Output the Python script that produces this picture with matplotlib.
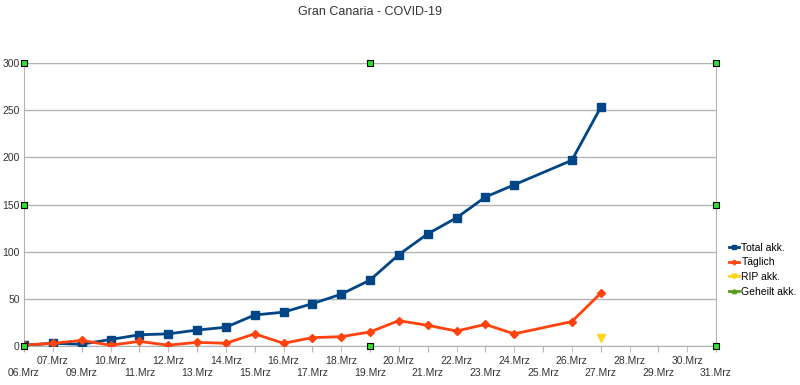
import numpy as np
import matplotlib
matplotlib.use("Agg")
import matplotlib.pyplot as plt

plt.rcParams['font.family'] = ['Liberation Sans', 'DejaVu Sans']

# Kategorien (08.Mrz fehlt in der Tabelle)
days = ["06.Mrz", "07.Mrz"] + ["%02d.Mrz" % d for d in range(9, 32)]

# Werte pro Tag, None = kein Eintrag
total = [1, 3, 2, 7, 12, 13, 17, 20, 33, 36, 45, 55, 70, 97, 119, 136, 158, 171,
         None, 197, 253, None, None, None, None]
taeglich = [1, 3, 6, 1, 5, 1, 4, 3, 13, 3, 9, 10, 15, 27, 22, 16, 23, 13,
            None, 26, 56, None, None, None, None]
rip = [None] * 20 + [9, None, None, None, None]
geheilt = [None] * 25

# Markierungs-Griffe (gruene Quadrate) aus dem Screenshot
handle_x = [0, 0, 0, 12, 12, 24, 24, 24]
handle_y = [300, 150, 0, 300, 0, 300, 150, 0]


def pts(vals):
    xs = [i for i, v in enumerate(vals) if v is not None]
    ys = [v for v in vals if v is not None]
    return xs, ys


fig = plt.figure(figsize=(8, 3.85), dpi=100)
ax = fig.add_axes([0.03, 0.101, 0.865, 0.735])

x, y = pts(total)
ax.plot(x, y, color="#004586", lw=2, marker="s", ms=6, label="Total akk.", zorder=4)
x, y = pts(taeglich)
ax.plot(x, y, color="#ff420e", lw=2, marker="D", ms=4, label="Täglich", zorder=4)
x, y = pts(rip)
ax.plot(x, y, color="#ffd320", lw=2, marker="v", ms=6, label="RIP akk.", zorder=4)
x, y = pts(geheilt)
ax.plot(x, y, color="#579d1c", lw=2, marker="^", ms=5, label="Geheilt akk.", zorder=4)

ax.scatter(handle_x, handle_y, marker="s", s=22, c="#33dd33", edgecolors="black",
           linewidths=0.8, zorder=6, clip_on=False)

ax.set_xlim(0, len(days) - 1)
ax.set_ylim(0, 300)
ax.set_yticks(range(0, 301, 50))
ax.set_yticklabels([str(v) for v in range(0, 301, 50)], fontsize=7.5, color="#333333")

# Beschriftung versetzt in zwei Reihen: gerade Indizes unten, ungerade oben
even = list(range(0, len(days), 2))
odd = list(range(1, len(days), 2))
ax.set_xticks(even)
ax.set_xticklabels([days[i] for i in even], fontsize=7.5, color="#333333")
ax.set_xticks(odd, minor=True)
ax.set_xticklabels([days[i] for i in odd], minor=True, fontsize=7.5, color="#333333")
ax.tick_params(axis="x", which="major", length=4, color="#b3b3b3", pad=12)
ax.tick_params(axis="x", which="minor", length=4, color="#b3b3b3", pad=3)
ax.tick_params(axis="y", length=0, pad=3)
ax.grid(axis="y", color="#b3b3b3", lw=1)
for s in ax.spines.values():
    s.set_color("#b3b3b3")
ax.set_axisbelow(True)

fig.suptitle("Gran Canaria - COVID-19", x=0.462, y=0.985, fontsize=9, color="#333333")

leg = ax.legend(loc="center left", bbox_to_anchor=(1.005, 0.27), frameon=False,
                fontsize=7.5, handlelength=1.0, handletextpad=0.2, labelspacing=0.45,
                markerscale=0.6)

plt.savefig("out.png", dpi=100)
plt.close()
